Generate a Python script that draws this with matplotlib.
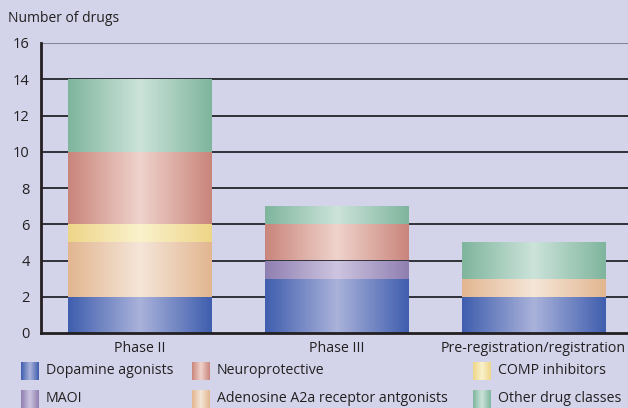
import numpy as np
import matplotlib
matplotlib.use("Agg")
import matplotlib.pyplot as plt
from matplotlib.colors import LinearSegmentedColormap

plt.rcParams['font.family'] = ['Open Sans', 'DejaVu Sans']

phases = ["Phase II", "Phase III", "Pre-registration/registration"]
classes = ["Dopamine agonists", "MAOI", "Adenosine A2a receptor antgonists",
           "COMP inhibitors", "Neuroprotective", "Other drug classes"]
dopamine = [2, 3, 2]
maoi = [0, 1, 0]
adenosine = [3, 0, 1]
comp = [1, 0, 0]
neuro = [4, 2, 0]
other = [4, 1, 2]
yticks = [0, 2, 4, 6, 8, 10, 12, 14, 16]

series = [dopamine, maoi, adenosine, comp, neuro, other]
# (edge colour, centre colour) for the horizontal shading
shades = [("#3f5eae", "#aab2da"), ("#8f7fb1", "#cdc5e0"), ("#e2b690", "#f5e6d8"),
          ("#eed588", "#faf2cc"), ("#c9857b", "#efd3cc"), ("#7fb59d", "#cce3da")]
bg = "#d3d4ea"

def cmap_for(edge, mid):
    return LinearSegmentedColormap.from_list("g", [edge, mid, edge])

grad = np.linspace(0, 1, 256).reshape(1, -1)

fig = plt.figure(figsize=(6.28, 4.08), dpi=100, facecolor=bg)
ax = fig.add_axes([41/628, 1-333/408, 1-41/628, (333-43)/408])
ax.set_facecolor(bg)

x = np.arange(len(phases))
w = 0.726
bottom = np.zeros(len(phases))
for vals, (e, m) in zip(series, shades):
    bars = ax.bar(x, vals, w, bottom=bottom, color="none", zorder=2)
    for b in bars:
        if b.get_height() == 0:
            continue
        x0, y0 = b.get_x(), b.get_y()
        im = ax.imshow(grad, cmap=cmap_for(e, m), aspect="auto", zorder=2,
                       extent=[x0, x0 + b.get_width(), y0, y0 + b.get_height()])
        im.set_clip_path(b)
    bottom += np.array(vals)

ax.set_xlim(-0.5, 2.48)
ax.set_ylim(0, 16)
ax.set_yticks(yticks)
ax.set_xticks(x)
ax.set_xticklabels(phases, fontsize=10.2, color="#231f20")
ax.tick_params(axis="y", length=0, labelsize=10.5, labelcolor="#231f20", pad=8)
ax.tick_params(axis="x", length=0, pad=6)
for y in yticks[1:-1]:
    ax.axhline(y, color="#25252b", lw=1.3, zorder=1)
ax.axhline(16, color="#85859a", lw=1.5, zorder=1)
for s in ["top", "right"]:
    ax.spines[s].set_visible(False)
ax.spines["left"].set_linewidth(2)
ax.spines["bottom"].set_linewidth(2)
ax.spines["left"].set_color("#231f20")
ax.spines["bottom"].set_color("#231f20")

fig.text(8/628, 1-18/408, "Number of drugs", fontsize=10, color="#231f20", va="center")

# legend with shaded swatches
legend_pos = [(21, 371), (21, 399), (192, 399), (473, 371), (192, 371), (473, 399)]
for name, (e, m), (lx, ly) in zip(classes, shades, legend_pos):
    sw = fig.add_axes([lx/628, 1-(ly+9)/408, 18/628, 18/408])
    sw.imshow(grad, cmap=cmap_for(e, m), aspect="auto")
    sw.axis("off")
    fig.text((lx+25)/628, 1-ly/408, name, fontsize=10.2, color="#231f20", va="center")

fig.savefig("out.png", dpi=100, facecolor=bg)
